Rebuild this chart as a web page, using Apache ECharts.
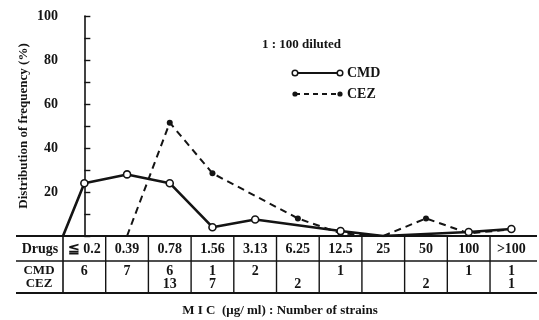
<!DOCTYPE html>
<html>
<head>
<meta charset="utf-8">
<script src="https://cdn.jsdelivr.net/npm/echarts@6/dist/echarts.min.js"></script>
<style>html,body{margin:0;padding:0;background:#fff;}#c{width:539px;height:320px;}</style>
</head>
<body>
<div id="c"></div>
<script>
// MIC categories (µg/ml)
var categories = ['\u2266 0.2', '0.39', '0.78', '1.56', '3.13', '6.25', '12.5', '25', '50', '100', '>100'];
// Distribution of frequency (%) (null = no point drawn)
var cmdPct = [24, 28, 24, 4, 7.5, null, 2.3, 0, null, 1.8, 3.2];
var cezPct = [null, 0, 51.5, 28.5, null, 8, 1.2, 0, 8, 1.2, 3];
// Number of strains (table)
var cmdCount = ['6', '7', '6', '1', '2', '', '1', '', '', '1', '1'];
var cezCount = ['', '', '13', '7', '', '2', '', '', '2', '', '1'];
// Y-axis tick labels shown
var yTickLabels = ['20', '40', '60', '80', '100'];

var FONT = '"Liberation Serif", "DejaVu Serif", serif';
var INK = '#141414';

var cmdData = [[-0.5, 0]];
cmdPct.forEach(function (v, i) { if (v !== null) cmdData.push([i, v]); });
var cezData = [];
cezPct.forEach(function (v, i) { if (v !== null) cezData.push([i, v]); });

var chart = echarts.init(document.getElementById('c'));
chart.setOption({
  animation: false,
  backgroundColor: '#fff',
  grid: { left: 63, top: 16, width: 474, height: 220, containLabel: false },
  xAxis: { type: 'value', min: -0.5, max: 10.6, show: false },
  yAxis: {
    type: 'value', min: 0, max: 100, interval: 10,
    name: 'Distribution of frequency (%)',
    nameLocation: 'middle', nameRotate: 90, nameGap: 33, nameMoveOverlap: false,
    nameTextStyle: { fontFamily: FONT, fontWeight: 'bold', fontSize: 13, color: INK },
    axisLine: { show: true, lineStyle: { color: INK, width: 1.6 } },
    axisTick: { show: true, inside: true, length: 6, lineStyle: { color: INK, width: 1.4 } },
    splitLine: { show: false },
    axisLabel: {
      fontFamily: FONT, fontWeight: 'bold', fontSize: 14, color: INK, margin: 5,
      formatter: function (v) { return yTickLabels.indexOf(String(v)) >= 0 ? String(v) : ''; }
    }
  },
  series: [
    {
      name: 'CMD', type: 'line', data: cmdData, z: 3,
      symbol: 'circle',
      symbolSize: function (v) { return (v[1] === 0) ? 0 : 7; },
      itemStyle: { color: '#fff', borderColor: INK, borderWidth: 1.6 },
      lineStyle: { color: INK, width: 2.6 }
    },
    {
      name: 'CEZ', type: 'line', data: cezData, z: 2,
      symbol: 'circle',
      symbolSize: function (v) { return (v[1] === 0) ? 0 : 6; },
      itemStyle: { color: INK, borderColor: INK, borderWidth: 0 },
      lineStyle: { color: INK, width: 2, type: [7, 5] }
    }
  ]
});

function px(x) { return chart.convertToPixel({ gridIndex: 0 }, [x, 0])[0]; }
function txt(t, x, y, size, align) {
  return {
    type: 'text', silent: true, z: 10,
    style: {
      text: t, x: x, y: y, fill: INK,
      font: 'bold ' + size + 'px ' + FONT,
      textAlign: align || 'center', textVerticalAlign: 'middle',
      align: align || 'center', verticalAlign: 'middle'
    }
  };
}
function ln(x1, y1, x2, y2, w) {
  return { type: 'line', silent: true, z: 9, shape: { x1: x1, y1: y1, x2: x2, y2: y2 },
    style: { stroke: INK, lineWidth: w || 1.5 } };
}

var y0 = chart.convertToPixel({ gridIndex: 0 }, [0, 0])[1];
var yTop = y0, yMid = 261, yBot = 293;
var tLeft = 16, tRight = px(10.6);
var g = [];
g.push(ln(tLeft, yTop, tRight, yTop, 1.8));
g.push(ln(tLeft, yMid, tRight, yMid, 1.5));
g.push(ln(tLeft, yBot, tRight, yBot, 1.8));
g.push(ln(px(-0.5), yTop, px(-0.5), yBot, 1.6));
for (var i = 0; i < categories.length - 1; i++) {
  g.push(ln(px(i + 0.5), yTop, px(i + 0.5), yBot, 1.4));
}
g.push(txt('Drugs', 40, 249, 14));
g.push(txt('CMD', 39, 271, 13));
g.push(txt('CEZ', 39, 284, 13));
categories.forEach(function (c, i) {
  g.push(txt(c, px(i), 249, 14));
  if (cmdCount[i]) g.push(txt(cmdCount[i], px(i), 271, 14));
  if (cezCount[i]) g.push(txt(cezCount[i], px(i), 284, 14));
});
g.push(txt('M I C  (\u03bcg/ ml) : Number of strains', 280, 311, 13));
g.push(txt('1 : 100 diluted', 262, 45, 13, 'left'));
// legend
g.push({ type: 'line', silent: true, z: 9, shape: { x1: 295, y1: 73, x2: 340, y2: 73 }, style: { stroke: INK, lineWidth: 2 } });
g.push({ type: 'circle', silent: true, z: 10, shape: { cx: 295, cy: 73, r: 2.8 }, style: { fill: '#fff', stroke: INK, lineWidth: 1.5 } });
g.push({ type: 'circle', silent: true, z: 10, shape: { cx: 340, cy: 73, r: 2.8 }, style: { fill: '#fff', stroke: INK, lineWidth: 1.5 } });
g.push(txt('CMD', 347, 73, 14, 'left'));
g.push({ type: 'line', silent: true, z: 9, shape: { x1: 295, y1: 94, x2: 340, y2: 94 }, style: { stroke: INK, lineWidth: 2, lineDash: [5, 4] } });
g.push({ type: 'circle', silent: true, z: 10, shape: { cx: 295, cy: 94, r: 2.6 }, style: { fill: INK } });
g.push({ type: 'circle', silent: true, z: 10, shape: { cx: 340, cy: 94, r: 2.6 }, style: { fill: INK } });
g.push(txt('CEZ', 347, 94, 14, 'left'));

chart.setOption({ graphic: { elements: g } });
</script>
</body>
</html>
